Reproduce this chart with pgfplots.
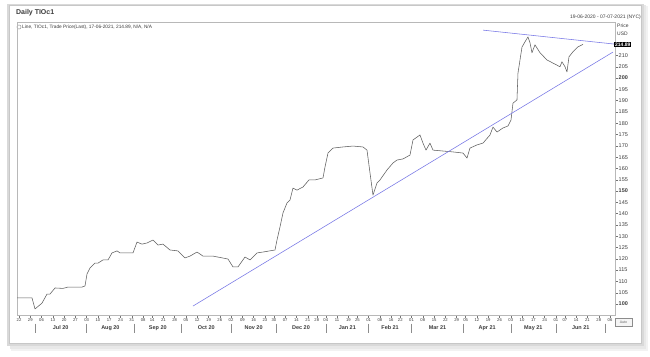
\documentclass[border=0pt]{standalone}
\usepackage{pgfplots}
\pgfplotsset{compat=1.18}
\usepackage{fontspec}
\setmainfont{Liberation Sans}
\definecolor{trend}{RGB}{118,118,230}
\definecolor{price}{RGB}{95,95,95}
\definecolor{txt}{RGB}{60,60,60}
\pgfplotstableread{
td val
-0.89 102.7
5.76 102.7
7.09 97.8
10.20 100.4
12.41 104.4
13.74 104.4
15.96 107.1
19.50 106.9
21.72 107.5
27.93 107.5
29.26 108.0
30.14 113.3
31.47 115.9
33.69 118.1
35.02 118.1
37.23 119.5
39.45 119.5
41.22 122.6
43.44 123.5
44.77 122.6
50.53 122.6
52.30 127.4
54.52 126.5
56.74 127.0
59.40 128.3
61.61 126.1
63.83 126.5
66.93 123.9
70.48 123.5
73.58 120.4
75.80 121.2
78.90 123.0
81.56 121.2
85.99 121.2
92.64 119.9
94.86 116.4
97.07 116.4
100.18 120.8
102.39 119.5
105.50 122.6
108.16 123.0
113.48 123.9
114.36 128.3
115.69 134.1
117.02 140.3
118.79 144.7
120.12 146.0
121.45 151.3
123.23 150.4
125.89 151.8
128.55 154.9
131.21 154.9
134.75 155.8
135.64 160.6
136.97 166.8
139.18 169.0
143.62 169.5
148.05 169.9
152.48 169.5
154.26 168.1
155.59 158.0
156.91 148.2
158.69 153.5
160.02 154.9
163.12 159.3
165.78 162.4
167.55 163.7
170.21 164.2
173.32 165.9
174.65 172.6
177.75 174.8
179.08 171.2
180.41 168.1
182.18 171.2
183.51 168.1
187.94 167.7
192.38 167.3
196.81 166.8
198.58 164.6
199.91 169.0
203.01 170.4
205.67 171.2
208.78 174.8
210.11 178.3
211.88 176.1
214.54 177.9
216.76 178.8
218.09 181.4
218.97 188.9
220.74 190.3
221.19 202.2
222.96 213.7
224.29 216.0
225.62 218.2
226.51 215.6
227.39 211.2
228.72 214.7
230.94 211.2
234.04 208.0
239.80 205.0
240.69 207.2
242.02 205.0
242.91 202.7
243.79 209.4
245.57 211.6
247.78 213.8
250.00 214.89
}\pricedata
\begin{document}
\begin{tikzpicture}[x=1bp,y=1bp]
\path (0,0) rectangle (650,356);
% card with shadow
\fill[black!5] (11,5) rectangle (648,350);
\fill[black!9] (10,7) rectangle (646,351);
\fill[black!15] (7,10) rectangle (644,352);
\fill[white] (9,13) rectangle (641,351);
\draw[black!22, line width=0.5bp] (9,13) rectangle (641,351);
% header texts
\node[anchor=west, inner sep=0, text=txt, font=\fontsize{7}{8}\selectfont\bfseries] at (16,343) {Daily TIOc1};
\node[anchor=east, inner sep=0, text=txt, font=\fontsize{5}{6}\selectfont] at (641,339) {19-06-2020 - 07-07-2021 (NYC)};
\draw[black!50, line width=0.35bp] (19,329) circle (2.1);
\node[anchor=west, inner sep=0, text=txt, font=\fontsize{4.8}{5.5}\selectfont] at (22,329) {Line, TIOc1, Trade Price(Last), 17-06-2021, 214.89, N/A, N/A};
\node[anchor=west, inner sep=0, text=txt, font=\fontsize{5}{6}\selectfont] at (617,330) {Price};
\node[anchor=west, inner sep=0, text=txt, font=\fontsize{5}{6}\selectfont] at (617,322) {USD};
\begin{axis}[
  at={(17bp,41bp)}, anchor=south west,
  scale only axis, width=598bp, height=293bp,
  xmin=-0.89, xmax=264.2, ymin=95.13, ymax=224.8,
  axis line style={black!28, line width=0.4pt},
  xtick pos=left, ytick pos=right, yticklabel pos=right,
  tick align=outside,
  major tick length=2.5bp,
  tick style={black!55, line width=0.4pt},
  xtick={0,5,10,15,20,25,30,35,40,45,50,55,59,64,69,74,79,84,89,94,99,104,109,113,118,123,128,132,136,141,146,150,155,160,165,169,174,179,184,189,194,198,203,208,213,218,223,228,233,238,242,247,252,257,262},
  xticklabels={22,29,06,13,20,27,03,10,17,24,31,08,14,21,28,05,12,19,26,02,09,16,23,30,07,14,21,28,04,11,19,25,01,08,16,22,01,08,15,22,29,05,12,19,26,03,10,17,24,01,07,14,21,28,06},
  xticklabel style={font=\fontsize{4.2}{5}\selectfont, text=txt, inner sep=1bp},
  ytick={100,105,...,210},
  yticklabels={\textbf{100},105,110,115,120,125,130,135,140,145,\textbf{150},155,160,165,170,175,180,185,190,195,\textbf{200},205,210},
  yticklabel style={font=\fontsize{5.5}{6}\selectfont, text=txt, anchor=west, inner sep=1bp},
  clip=false,
]
\addplot[price, line width=0.55bp, line join=round] table[x=td, y=val] {\pricedata};
\addplot[trend, line width=0.55bp] coordinates {(77.13,99.1) (263.3,211.5)};
\addplot[trend, line width=0.55bp] coordinates {(205.7,221.2) (264.2,215.0)};
\end{axis}
% last price box
\node[fill=black, text=white, anchor=west, inner xsep=1bp, inner ysep=0.6bp, font=\fontsize{5}{5.5}\selectfont\bfseries] at (614,311.5) {214.89};
% auto box
\draw[black!45, line width=0.4bp, fill=black!4] (615,30) rectangle (632,37.5);
\node[text=black!60, inner sep=0, font=\fontsize{3.6}{4}\selectfont] at (623.5,33.75) {Auto};
% month separators (first trading day of each month)
\foreach \p in {34.8,86.7,134.1,181.4,231.1,276.2,325.8,368.7,411.5,463.4,510.8,555.9,605.6}{
  \draw[black!45, line width=0.5bp] (\p,32.5) -- (\p,23);
}
\foreach \p/\m in {60.7/Jul 20,110.4/Aug 20,157.8/Sep 20,206.3/Oct 20,253.6/Nov 20,301.0/Dec 20,347.3/Jan 21,390.1/Feb 21,437.5/Mar 21,487.1/Apr 21,533.3/May 21,580.7/Jun 21}{
  \node[text=txt, inner sep=0, font=\fontsize{5.5}{6}\selectfont\bfseries] at (\p,28) {\m};
}
\end{tikzpicture}
\end{document}
